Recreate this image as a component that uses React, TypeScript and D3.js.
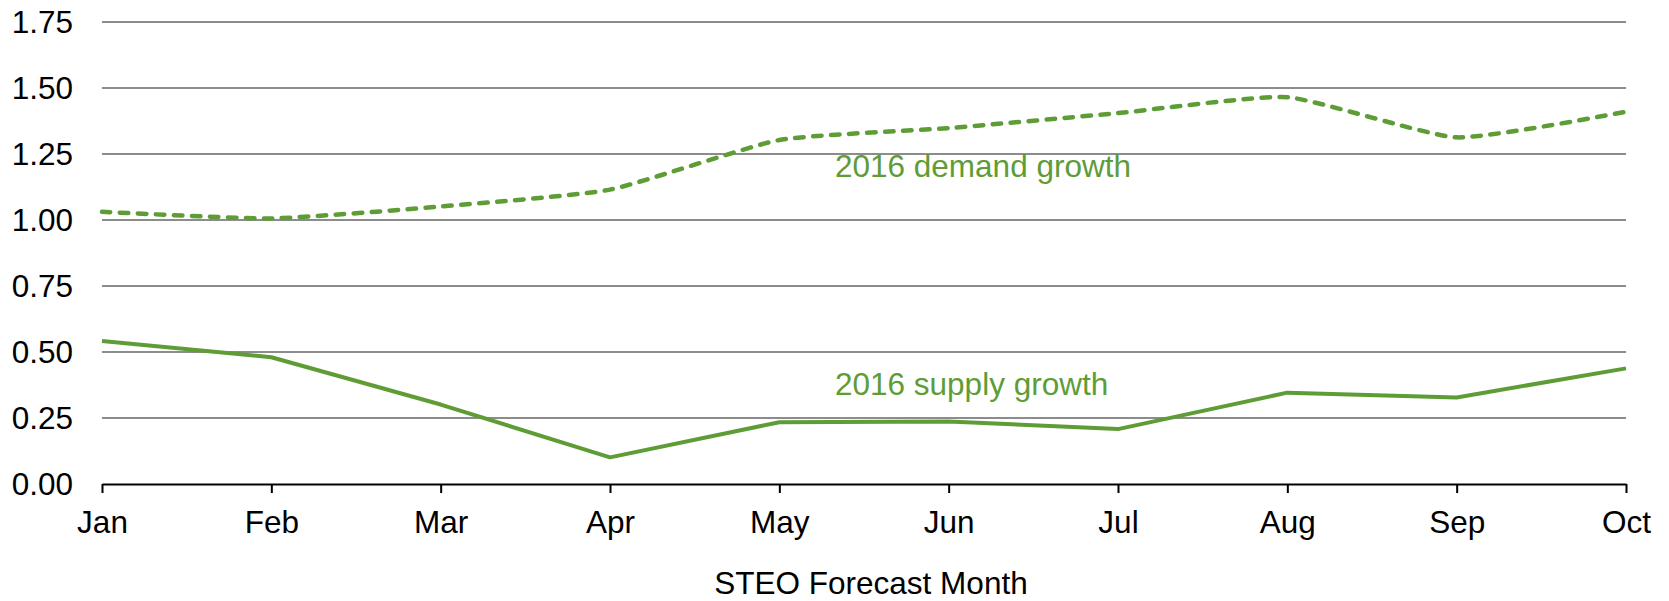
import { useEffect, useRef } from 'react';
import * as d3 from 'd3';

const months = ['Jan', 'Feb', 'Mar', 'Apr', 'May', 'Jun', 'Jul', 'Aug', 'Sep', 'Oct'];
const demandGrowth = [1.031, 1.006, 1.051, 1.115, 1.303, 1.348, 1.405, 1.465, 1.313, 1.41];
const supplyGrowth = [0.542, 0.48, 0.301, 0.101, 0.234, 0.237, 0.208, 0.346, 0.328, 0.438];
const yTicks = [0, 0.25, 0.5, 0.75, 1.0, 1.25, 1.5, 1.75];

const GREEN = '#5e9c36';
const FONT = '"Liberation Sans", Arial, sans-serif';
const FONT_SIZE = '31.5px';

export default function App() {
  const svgRef = useRef<SVGSVGElement | null>(null);
  const width = 1669;
  const height = 601;

  useEffect(() => {
    if (!svgRef.current) return;
    const svg = d3.select(svgRef.current);
    svg.selectAll('*').remove();

    const margin = { top: 22, right: 43, bottom: 117, left: 102 };
    const x = d3.scalePoint<string>()
      .domain(months)
      .range([margin.left, width - margin.right]);
    const y = d3.scaleLinear()
      .domain([0, 1.75])
      .range([height - margin.bottom, margin.top]);

    // Gridlines
    svg.append('g')
      .selectAll('line')
      .data(yTicks.filter(t => t > 0))
      .enter().append('line')
      .attr('x1', margin.left)
      .attr('x2', width - margin.right)
      .attr('y1', d => y(d))
      .attr('y2', d => y(d))
      .attr('stroke', '#8c8c8c')
      .attr('stroke-width', 2);

    // Y labels
    svg.append('g')
      .selectAll('text')
      .data(yTicks)
      .enter().append('text')
      .attr('x', 73)
      .attr('y', d => y(d))
      .attr('dy', '0.35em')
      .attr('text-anchor', 'end')
      .style('font-family', FONT)
      .style('font-size', FONT_SIZE)
      .attr('fill', '#000')
      .text(d => d3.format('.2f')(d));

    // X axis
    const xAxis = svg.append('g')
      .attr('transform', `translate(0,${y(0)})`)
      .call(d3.axisBottom(x).tickSize(9).tickPadding(18).tickSizeOuter(0));
    xAxis.select('.domain').attr('stroke', '#000').attr('stroke-width', 2);
    xAxis.selectAll('.tick line').attr('stroke', '#000').attr('stroke-width', 2);
    xAxis.selectAll('.tick text')
      .style('font-family', FONT)
      .style('font-size', FONT_SIZE)
      .attr('fill', '#000')
      .attr('dy', '0.71em');

    // Lines
    const demandLine = d3.line<number>()
      .x((_, i) => x(months[i]) as number)
      .y(d => y(d))
      .curve(d3.curveCardinal.tension(0.5));

    const supplyLine = d3.line<number>()
      .x((_, i) => x(months[i]) as number)
      .y(d => y(d));

    svg.append('path')
      .datum(supplyGrowth)
      .attr('fill', 'none')
      .attr('stroke', GREEN)
      .attr('stroke-width', 4)
      .attr('stroke-linejoin', 'round')
      .attr('d', supplyLine);

    svg.append('path')
      .datum(demandGrowth)
      .attr('fill', 'none')
      .attr('stroke', GREEN)
      .attr('stroke-width', 4.5)
      .attr('stroke-linecap', 'round')
      .attr('stroke-dasharray', '8.5,9.5')
      .attr('d', demandLine);

    // Series labels
    svg.append('text')
      .attr('x', 835)
      .attr('y', 177)
      .style('font-family', FONT)
      .style('font-size', FONT_SIZE)
      .attr('fill', GREEN)
      .text('2016 demand growth');

    svg.append('text')
      .attr('x', 835)
      .attr('y', 395)
      .style('font-family', FONT)
      .style('font-size', FONT_SIZE)
      .attr('fill', GREEN)
      .text('2016 supply growth');

    // Axis title
    svg.append('text')
      .attr('x', 871)
      .attr('y', 594)
      .attr('text-anchor', 'middle')
      .style('font-family', FONT)
      .style('font-size', FONT_SIZE)
      .attr('fill', '#000')
      .text('STEO Forecast Month');
  }, []);

  return (
    <svg
      ref={svgRef}
      width={width}
      height={height}
      style={{ position: 'absolute', left: 0, top: 0, display: 'block', background: '#fff' }}
    />
  );
}
